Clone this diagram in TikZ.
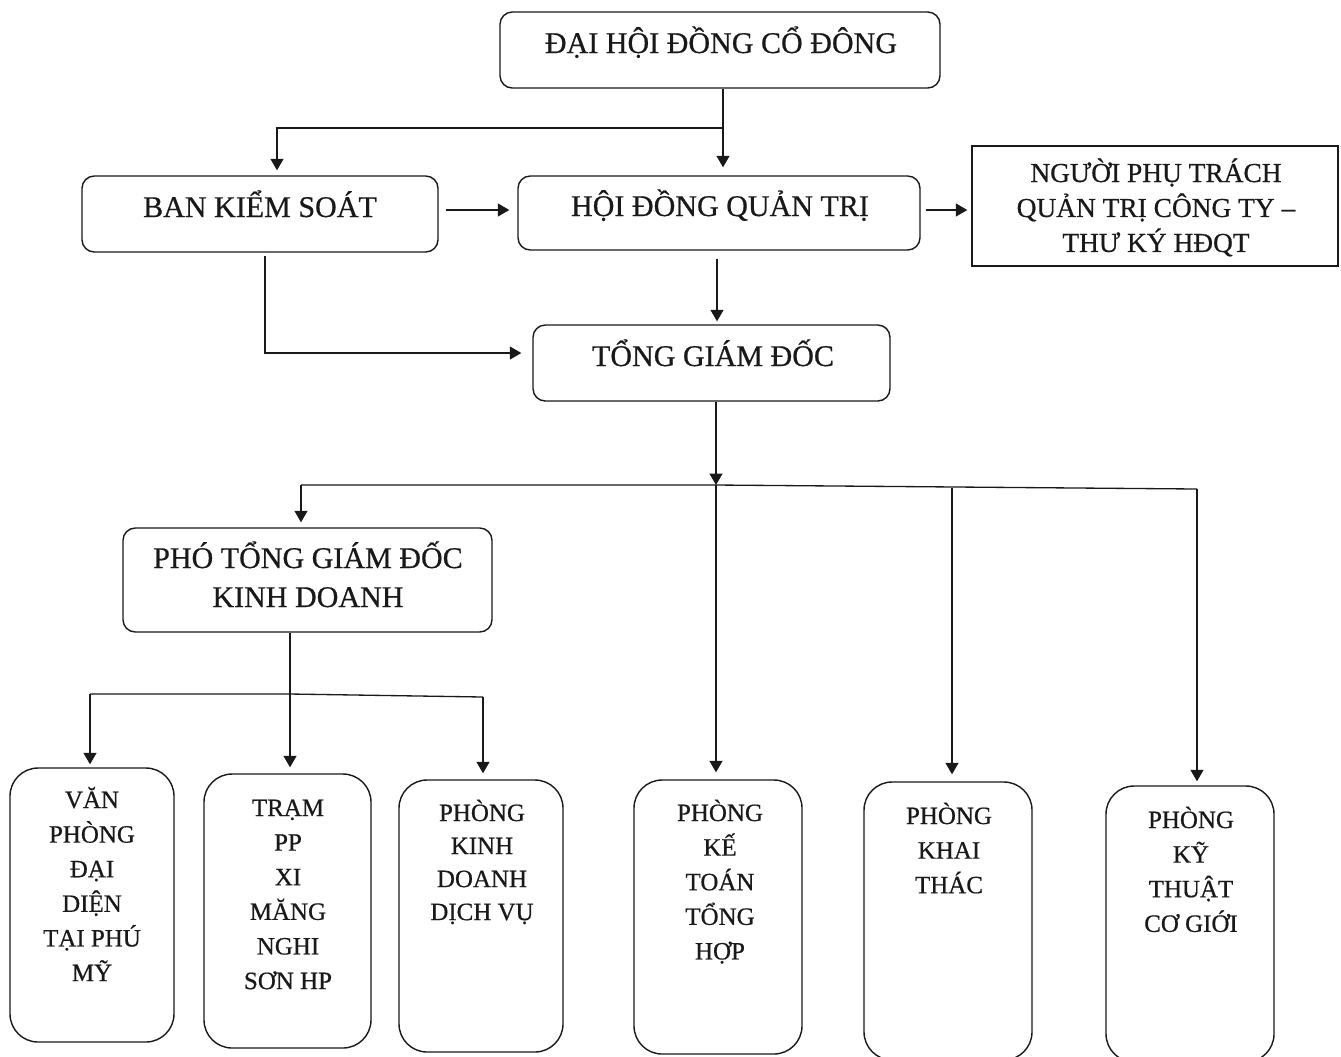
\documentclass[tikz,border=0pt]{standalone}
\usepackage{fontspec}
\setmainfont{Liberation Serif}[FakeBold=0.6]
\usetikzlibrary{arrows.meta,fit}
\definecolor{ink}{RGB}{25,25,25}
\tikzset{
  box/.style={draw=ink, line width=0.8pt, rounded corners=7pt, inner sep=0pt},
  tallbox/.style={draw=ink, line width=0.8pt, rounded corners=16pt, inner sep=0pt},
  sqbox/.style={draw=ink, line width=0.8pt, inner sep=0pt},
  big/.style={font=\fontsize{17.1}{22.2}\selectfont, inner sep=0pt, text=ink, anchor=base},
  mid/.style={font=\fontsize{15.6}{19.9}\selectfont, inner sep=0pt, text=ink, anchor=base},
  small/.style={font=\fontsize{14.2}{19.7}\selectfont, inner sep=0pt, text=ink, anchor=base},
  conn/.style={draw=ink, line width=0.75pt},
  arr/.style={conn, -{Triangle[length=0.23cm,width=0.26cm]}},
}
\begin{document}
\begin{tikzpicture}[x=0.02cm,y=-0.02cm]
\useasboundingbox (0,0) rectangle (1341,1056);
% boxes
\node[box, fit={(500,12) (940,88)}] (dh) {};
\node[box, fit={(82,176) (438,252)}] (bks) {};
\node[box, fit={(518,176) (920,250)}] (hd) {};
\node[sqbox, fit={(972,146) (1338,266)}] (npt) {};
\node[box, fit={(533,325) (890,401)}] (tgd) {};
\node[box, fit={(123,528) (492,632)}] (ptgd) {};
\node[tallbox, fit={(10,768) (174,1042)}] (vp) {};
\node[tallbox, fit={(204,774) (371,1048)}] (tram) {};
\node[tallbox, fit={(399,780) (563,1052)}] (pkd) {};
\node[tallbox, fit={(634,780) (802,1054)}] (pkt) {};
\node[tallbox, fit={(864,782) (1032,1060)}] (pkk) {};
\node[tallbox, fit={(1106,786) (1274,1062)}] (pkc) {};
% texts
\node[big] (dh-t) at (721,53) {ĐẠI HỘI ĐỒNG CỔ ĐÔNG};
\node[big] (bks-t) at (260,217) {BAN KIỂM SOÁT};
\node[big] (hd-t) at (720,216) {HỘI ĐỒNG QUẢN TRỊ};
\node[big] (tgd-t) at (713,366) {TỔNG GIÁM ĐỐC};
\node[big] (ptgd-t) at (308,568) {\parbox[t]{9cm}{\centering PHÓ TỔNG GIÁM ĐỐC\\KINH DOANH}};
\node[mid] (npt-t) at (1156,182) {\parbox[t]{7cm}{\centering NGƯỜI PHỤ TRÁCH\\QUẢN TRỊ CÔNG TY –\\THƯ KÝ HĐQT}};
\node[small] (vp-t) at (92,808) {\parbox[t]{3cm}{\centering VĂN\\PHÒNG\\ĐẠI\\DIỆN\\TẠI PHÚ\\MỸ}};
\node[small] (tram-t) at (288,816) {\parbox[t]{3cm}{\centering TRẠM\\PP\\XI\\MĂNG\\NGHI\\SƠN HP}};
\node[small] (pkd-t) at (482,821) {\parbox[t]{3cm}{\fontsize{14.2}{18.8}\selectfont\centering PHÒNG\\KINH\\DOANH\\DỊCH VỤ}};
\node[small] (pkt-t) at (720,821) {\parbox[t]{3cm}{\centering PHÒNG\\KẾ\\TOÁN\\TỔNG\\HỢP}};
\node[small] (pkk-t) at (949,824) {\parbox[t]{3cm}{\centering PHÒNG\\KHAI\\THÁC}};
\node[small] (pkc-t) at (1191,828) {\parbox[t]{3cm}{\centering PHÒNG\\KỸ\\THUẬT\\CƠ GIỚI}};
% connectors
\coordinate (j1) at (723,128);
\coordinate (j1l) at (277,128);
\draw[arr, shorten >=0.16cm] (dh.south -| j1) -- (hd.north -| j1);
\draw[arr, shorten >=0.1cm] (j1) -- (j1l) -- (bks.north -| j1l);
\draw[arr, shorten <=0.14cm, shorten >=0.16cm] (bks.east |- 0,210) -- (hd.west |- 0,210);
\draw[arr, shorten <=0.1cm, shorten >=0.08cm] (hd.east |- 0,210) -- (npt.west |- 0,210);
\coordinate (h1) at (717,0);
\draw[arr, shorten <=0.16cm, shorten >=0.06cm] (hd.south -| h1) -- (tgd.north -| h1);
\coordinate (k1) at (265,353);
\draw[arr, shorten <=0.06cm, shorten >=0.22cm] (bks.south -| k1) -- (k1) -- (k1 -| tgd.west);
\coordinate (bus) at (716,485);
\coordinate (busL) at (301,485);
\coordinate (busR) at (1197,489);
\coordinate (busK) at (952,488);
\draw[arr] (tgd.south -| bus) -- (bus);
\draw[conn] (busL) -- (bus) -- (busR);
\draw[arr, shorten >=0.1cm] (busL) -- (ptgd.north -| busL);
\draw[arr, shorten >=0.14cm] (bus) -- (pkt.north -| bus);
\draw[arr, shorten >=0.14cm] (busK) -- (pkk.north -| busK);
\draw[arr, shorten >=0.08cm] (busR) -- (pkc.north -| busR);
\coordinate (b2) at (290,694);
\coordinate (b2L) at (90,694);
\coordinate (b2R) at (483,697);
\draw[arr, shorten >=0.12cm] (ptgd.south -| b2) -- (tram.north -| b2);
\draw[conn] (b2L) -- (b2) -- (b2R);
\draw[arr, shorten >=0.06cm] (b2L) -- (vp.north -| b2L);
\draw[arr, shorten >=0.12cm] (b2R) -- (pkd.north -| b2R);
\end{tikzpicture}
\end{document}
